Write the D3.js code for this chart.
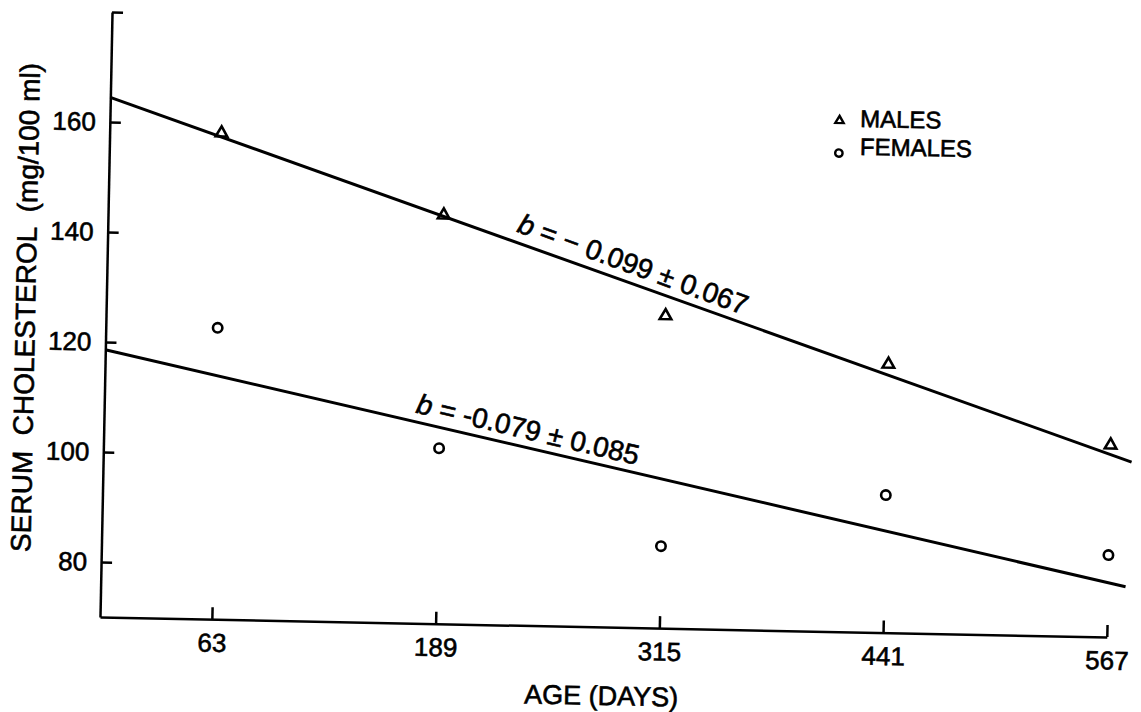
<!DOCTYPE html>
<html>
<head>
<meta charset="utf-8">
<script src="https://cdn.jsdelivr.net/npm/d3@7"></script>
<style>
  html, body { margin: 0; padding: 0; background: #fff; }
  svg { display: block; }
  text { font-family: "Liberation Sans", Arial, sans-serif; fill: #000; stroke: #000; stroke-width: 0.6px; }
</style>
</head>
<body>
<svg id="chart" width="1141" height="712"></svg>
<script>
// Age groups (days) and mean serum cholesterol (mg/100 ml)
const ageDays = [63, 189, 315, 441, 567];
const maleValues = [158.4, 144.3, 126.8, 118.8, 104.9];
const femaleValues = [123.0, 101.9, 84.9, 95.0, 84.9];

// Regression lines, given by their two end points (day, value)
const maleFitDays = [0, 579];
const maleFitValues = [164.5, 101.9];
const femaleFitDays = [0, 577];
const femaleFitValues = [118.6, 79.2];

// Slope annotations
const maleSlopeText = "= \u2212 0.099 \u00b1 0.067";
const femaleSlopeText = "= -0.079 \u00b1 0.085";

// Axis ticks
const xTickValues = [63, 189, 315, 441, 567];
const yTickValues = [80, 100, 120, 140, 160, 180];
const yTickLabels = ["80", "100", "120", "140", "160", ""];

const W = 1007, H = 605;
const svg = d3.select("#chart");

// whole figure sits slightly tilted on the page
const root = svg.append("g")
  .attr("transform", "translate(100,617) rotate(1.14) translate(0," + (-H) + ")");

const x = d3.scaleLinear().domain([0, 567]).range([0, W]);
const y = d3.scaleLinear().domain([70, 180]).range([H, 0]);

// Axes
const xAxis = d3.axisBottom(x)
  .tickValues(xTickValues)
  .tickFormat(d3.format("d"))
  .tickSizeInner(-12)
  .tickSizeOuter(0)
  .tickPadding(14);

const yAxis = d3.axisLeft(y)
  .tickValues(yTickValues)
  .tickFormat((d, i) => yTickLabels[i])
  .tickSizeInner(-11)
  .tickSizeOuter(0)
  .tickPadding(14);

const gx = root.append("g").attr("transform", "translate(0," + H + ")").call(xAxis);
const gy = root.append("g").call(yAxis);

[gx, gy].forEach(g => {
  g.select(".domain").attr("stroke", "#000").attr("stroke-width", 2.5);
  g.selectAll(".tick line").attr("stroke", "#000").attr("stroke-width", 2.5);
  g.selectAll(".tick text")
    .attr("font-family", "Liberation Sans, Arial, sans-serif")
    .attr("font-size", 26)
    .attr("fill", "#000");
});

// Axis titles
root.append("text")
  .attr("x", x(283))
  .attr("y", H + 78)
  .attr("text-anchor", "middle")
  .attr("font-size", 27)
  .text("AGE (DAYS)");

root.append("text")
  .attr("transform", "translate(-71," + (H - 308) + ") rotate(-90)")
  .attr("text-anchor", "middle")
  .attr("font-size", 28)
  .style("white-space", "pre")
  .text("SERUM  CHOLESTEROL  (mg/100 ml)");

// Regression lines
const line = d3.line().x(d => x(d[0])).y(d => y(d[1]));
const maleFit = maleFitDays.map((d, i) => [d, maleFitValues[i]]);
const femaleFit = femaleFitDays.map((d, i) => [d, femaleFitValues[i]]);

[maleFit, femaleFit].forEach(pts => {
  root.append("path")
    .attr("d", line(pts))
    .attr("fill", "none")
    .attr("stroke", "#000")
    .attr("stroke-width", 3);
});

// Slope labels written along each line
function slopeLabel(pts, day, label, offset, tilt) {
  const [p0, p1] = pts;
  const angle = Math.atan2(y(p1[1]) - y(p0[1]), x(p1[0]) - x(p0[0])) * 180 / Math.PI + tilt;
  const v = p0[1] + (p1[1] - p0[1]) * (day - p0[0]) / (p1[0] - p0[0]);
  const t = root.append("text")
    .attr("transform", "translate(" + x(day) + "," + y(v) + ") rotate(" + angle + ")")
    .attr("y", -offset)
    .attr("font-size", 28)
    .style("white-space", "pre");
  t.append("tspan").attr("font-style", "italic").text("b");
  t.append("tspan").text(" " + label);
}
slopeLabel(maleFit, 228, maleSlopeText, 10, 0.5);
slopeLabel(femaleFit, 174, femaleSlopeText, 9, 0.3);

// Data points
const tri = d3.symbol().type(d3.symbolTriangle);

root.selectAll(".male")
  .data(ageDays.map((d, i) => [d, maleValues[i]]))
  .join("path")
  .attr("class", "male")
  .attr("d", tri.size(58)())
  .attr("transform", d => "translate(" + x(d[0]) + "," + y(d[1]) + ")")
  .attr("fill", "none")
  .attr("stroke", "#000")
  .attr("stroke-width", 2.6);

root.selectAll(".female")
  .data(ageDays.map((d, i) => [d, femaleValues[i]]))
  .join("circle")
  .attr("class", "female")
  .attr("cx", d => x(d[0]))
  .attr("cy", d => y(d[1]))
  .attr("r", 4.7)
  .attr("fill", "none")
  .attr("stroke", "#000")
  .attr("stroke-width", 2.6);

// Legend
const legend = root.append("g").attr("transform", "translate(729,0)");
legend.append("path")
  .attr("d", d3.symbol().type(d3.symbolTriangle).size(30)())
  .attr("transform", "translate(0.5,94)")
  .attr("fill", "none")
  .attr("stroke", "#000")
  .attr("stroke-width", 2.4);
legend.append("text").attr("x", 21).attr("y", 100).attr("font-size", 24).text("MALES");
legend.append("circle")
  .attr("cx", 0.5).attr("cy", 126.5).attr("r", 3.7)
  .attr("fill", "none").attr("stroke", "#000").attr("stroke-width", 2.4);
legend.append("text").attr("x", 21.5).attr("y", 128).attr("font-size", 24).text("FEMALES");
</script>
</body>
</html>
